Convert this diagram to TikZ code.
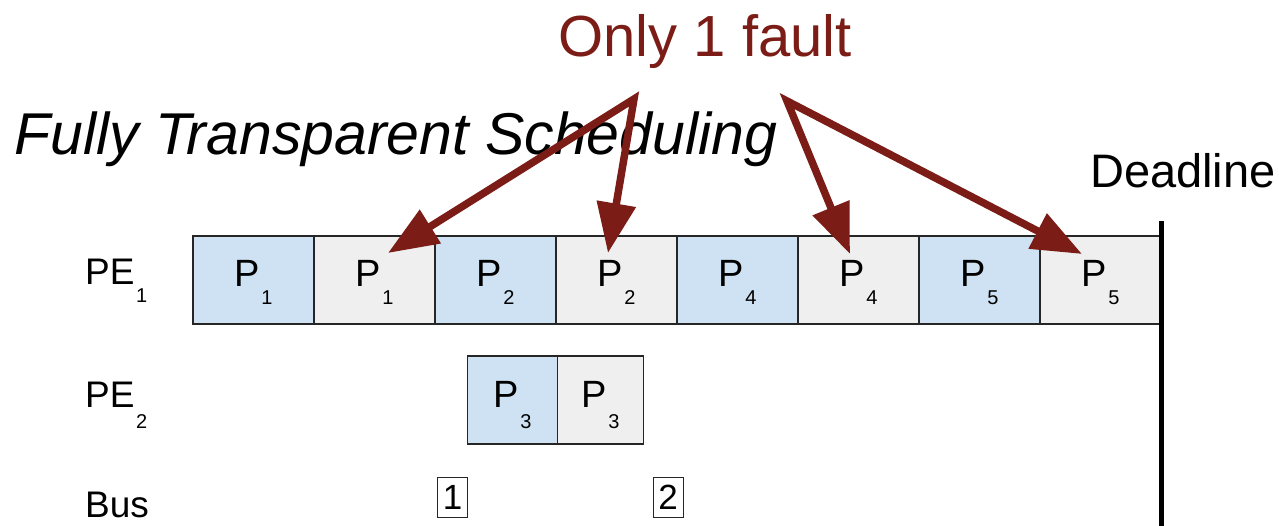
\documentclass[tikz,border=0pt]{standalone}
\usepackage{fontspec}
\setmainfont{Liberation Sans}
\usetikzlibrary{arrows.meta}
\definecolor{faultred}{RGB}{123,28,22}
\definecolor{procblue}{RGB}{207,226,243}
\definecolor{procgray}{RGB}{239,239,239}
\newcommand\lowsub[3]{\kern1.5pt\raisebox{-#1pt}{\fontsize{#2}{#2}\selectfont #3}}
\tikzset{
  slot/.style={draw=black!85, line width=1.1pt, inner sep=0pt,
    font=\fontsize{38}{38}\selectfont, text height=27pt, text depth=13pt},
  wideslot/.style={slot, minimum width=121pt, minimum height=88pt},
  orig/.style={fill=procblue},
  replica/.style={fill=procgray},
  rowlabel/.style={anchor=base west, inner sep=0pt, font=\fontsize{37}{37}\selectfont},
  busmsg/.style={draw=black!85, line width=1pt, minimum width=30pt, minimum height=40pt,
    inner sep=0pt, font=\fontsize{35}{35}\selectfont},
  faultarrow/.style={draw=faultred, line width=7.5pt, line join=miter,
    {Triangle[length=50pt,width=38pt]}-{Triangle[length=50pt,width=38pt]}},
}
\begin{document}
\begin{tikzpicture}[x=1pt,y=-1pt]
\useasboundingbox (0,0) rectangle (1279,526);

% titles
\node[anchor=base, inner sep=0pt, text=faultred, font=\fontsize{58}{58}\selectfont] (fault) at (705,57) {Only 1 fault};
\node[anchor=base west, inner sep=0pt, font=\fontsize{59}{59}\selectfont\itshape] (title) at (14,155) {Fully Transparent Scheduling};
\node[anchor=base west, inner sep=0pt, font=\fontsize{47}{47}\selectfont] (deadline) at (1090,188) {Deadline};

% row labels
\node[rowlabel] (pe1) at (85,285) {PE\lowsub{18}{20}{1}};
\node[rowlabel] (pe2) at (85,407) {PE\lowsub{21}{20}{2}};
\node[rowlabel] (bus) at (85,517) {Bus};

% PE1 schedule
\node[wideslot, orig]    (b1) at (253.5,280) {P\lowsub{18}{20}{1}};
\node[wideslot, replica] (b2) at (374.5,280) {P\lowsub{18}{20}{1}};
\node[wideslot, orig]    (b3) at (495.5,280) {P\lowsub{18}{20}{2}};
\node[wideslot, replica] (b4) at (616.5,280) {P\lowsub{18}{20}{2}};
\node[wideslot, orig]    (b5) at (737.5,280) {P\lowsub{18}{20}{4}};
\node[wideslot, replica] (b6) at (858.5,280) {P\lowsub{18}{20}{4}};
\node[wideslot, orig]    (b7) at (979.5,280) {P\lowsub{18}{20}{5}};
\node[wideslot, replica] (b8) at (1100.5,280) {P\lowsub{18}{20}{5}};

% PE2 schedule
\node[slot, orig, minimum width=89.5pt, minimum height=88pt]    (c1) at (512.5,400) {P\lowsub{21}{20}{3}};
\node[slot, replica, minimum width=86.5pt, minimum height=88pt] (c2) at (600.5,400) {P\lowsub{21}{20}{3}};

% bus messages
\node[busmsg] (m1) at (452.5,497) {1};
\node[busmsg] (m2) at (668,497) {2};

% deadline
\coordinate (dtop) at (1161,221);
\coordinate (dbot) at (1161,526);
\draw[line width=5pt] (dtop) -- (dbot);

% fault arrows
\coordinate (f1) at (634,99);
\coordinate (f2) at (787,101);
\coordinate (t1) at (388,253);
\coordinate (t2) at (608,253);
\coordinate (t3) at (850,254);
\coordinate (t4) at (1082,254);
\draw[faultarrow] (t1) -- (f1) -- (t2);
\draw[faultarrow] (t3) -- (f2) -- (t4);
\end{tikzpicture}
\end{document}
